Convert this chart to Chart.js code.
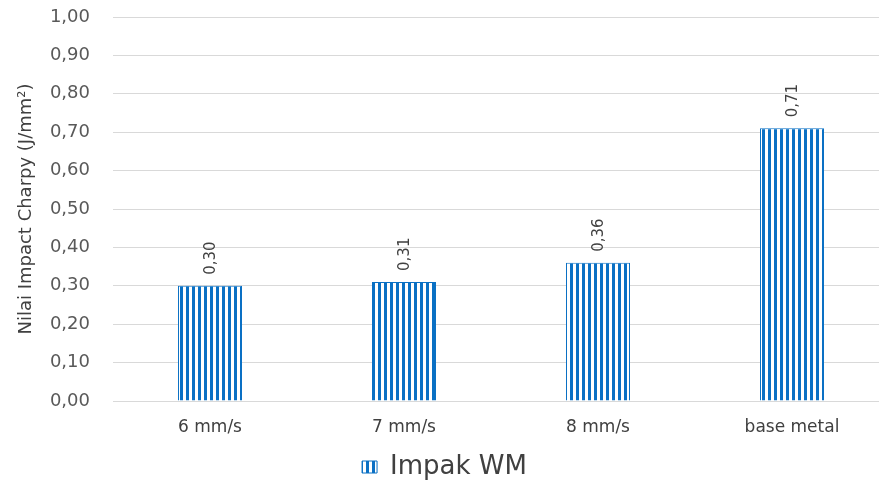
<!DOCTYPE html>
<html>
<head>
<meta charset="utf-8">
<script src="https://cdn.jsdelivr.net/npm/chart.js@4/dist/chart.umd.min.js"></script>
<style>
  html, body { margin: 0; padding: 0; background: #fff; overflow: hidden; }
  #c { display: block; }
</style>
</head>
<body>
<canvas id="c" width="889" height="481"></canvas>
<script>
// Charpy impact values per welding speed
const categories = ['6 mm/s', '7 mm/s', '8 mm/s', 'base metal'];
const impactValues = [0.30, 0.31, 0.36, 0.71];
const seriesName = 'Impak WM';
const yTicks = [0, 0.1, 0.2, 0.3, 0.4, 0.5, 0.6, 0.7, 0.8, 0.9, 1.0];

const BLUE = '#0a70c4';
const FONT = "'DejaVu Sans', sans-serif";

// vertical stripe fill
function stripePattern() {
  const p = document.createElement('canvas');
  p.width = 6; p.height = 6;
  const g = p.getContext('2d');
  g.fillStyle = '#ffffff';
  g.fillRect(0, 0, 6, 6);
  g.fillStyle = BLUE;
  g.fillRect(0, 0, 3, 6);
  return g.createPattern(p, 'repeat');
}
const fill = stripePattern();

const fmt = v => Number(v).toFixed(2).replace('.', ',');

// rotated value labels above each bar
const valueLabels = {
  id: 'valueLabels',
  afterDatasetsDraw(chart) {
    const ctx = chart.ctx;
    chart.data.datasets.forEach((ds, di) => {
      chart.getDatasetMeta(di).data.forEach((bar, i) => {
        ctx.save();
        ctx.translate(bar.x + 1, bar.y - 11);
        ctx.rotate(-Math.PI / 2);
        ctx.font = "15px " + FONT;
        ctx.fillStyle = '#404040';
        ctx.textAlign = 'left';
        ctx.textBaseline = 'middle';
        ctx.fillText(fmt(ds.data[i]), 0, 0);
        ctx.restore();
      });
    });
  }
};

new Chart(document.getElementById('c'), {
  type: 'bar',
  data: {
    labels: categories,
    datasets: [{
      label: seriesName,
      data: impactValues,
      backgroundColor: fill,
      borderColor: BLUE,
      borderWidth: 1,
      barPercentage: 0.66,
      categoryPercentage: 0.5
    }]
  },
  options: {
    responsive: false,
    animation: false,
    layout: { padding: { top: 0, left: 0, right: 0, bottom: -9 } },
    scales: {
      x: {
        afterFit(axis) { axis.height = 53; },
        grid: { display: false },
        border: { display: false },
        ticks: { color: '#404040', font: { family: FONT, size: 17 }, padding: 8 }
      },
      y: {
        min: 0, max: 1,
        afterFit(axis) {
          axis.width = 113;
          axis.paddingTop = 17;
          axis.paddingBottom = 0;
        },
        afterBuildTicks(axis) { axis.ticks = yTicks.map(v => ({ value: v })); },
        grid: { color: '#d9d9d9', lineWidth: 1, drawTicks: false },
        border: { display: false },
        ticks: {
          color: '#595959',
          font: { family: FONT, size: 18 },
          padding: 23,
          callback: v => fmt(v)
        },
        title: {
          display: true,
          text: 'Nilai Impact Charpy (J/mm²)',
          color: '#404040',
          font: { family: FONT, size: 18 },
          padding: { top: 16, bottom: 0 }
        }
      }
    },
    plugins: {
      legend: {
        position: 'bottom',
        labels: {
          color: '#404040',
          font: { family: FONT, size: 26 },
          boxWidth: 15,
          boxHeight: 12,
          padding: 0
        }
      },
      tooltip: { enabled: false }
    }
  },
  plugins: [valueLabels]
});
</script>
</body>
</html>
